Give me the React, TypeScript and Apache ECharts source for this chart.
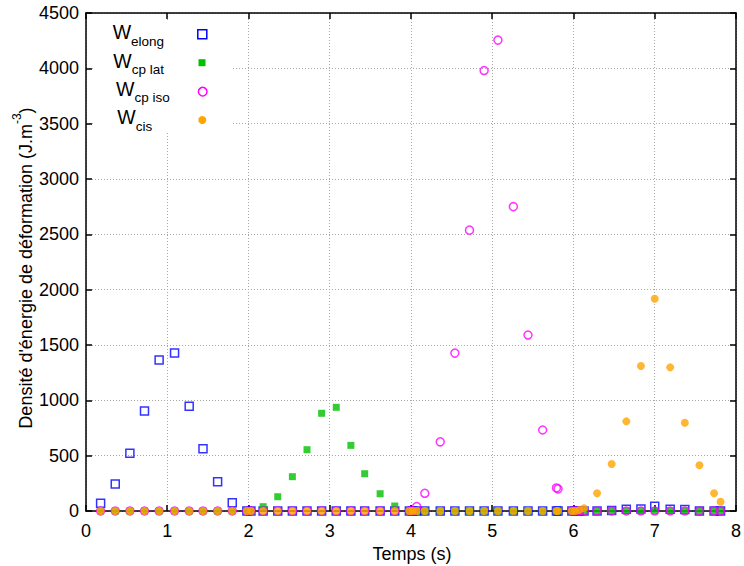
import React, { useEffect, useRef } from "react";
import * as echarts from "echarts";

// Time (s) of each sample
const times = [
  0.18, 0.36, 0.54, 0.72, 0.9, 1.09, 1.27, 1.44, 1.62, 1.8, 1.98,
  2.03, 2.18, 2.36, 2.54, 2.72, 2.9, 3.08, 3.26, 3.43, 3.62, 3.8, 3.98,
  4.02, 4.07, 4.17, 4.36, 4.54, 4.72, 4.9, 5.07, 5.26, 5.44, 5.62, 5.79, 5.81, 5.98,
  6.02, 6.07, 6.13, 6.29, 6.47, 6.65, 6.83, 7.0, 7.19, 7.37, 7.55, 7.73, 7.81,
];

const wElong = [
  70, 244, 521, 903, 1364, 1427, 946, 563, 265, 75, 0,
  0, 0, 0, 0, 0, 0, 0, 0, 0, 0, 0, 0,
  0, 0, 0, 0, 0, 0, 0, 0, 0, 0, 0, 0, 0, 0,
  0, 0, 0, 0, 5, 15, 18, 42, 16, 14, 0, 0, 0,
];

const wCpLat = [
  0, 0, 0, 0, 0, 0, 0, 0, 0, 0, 0,
  0, 39, 129, 310, 554, 883, 937, 593, 337, 156, 45, 0,
  0, 0, 0, 0, 0, 0, 0, 0, 0, 0, 0, 0, 0, 0,
  0, 0, 0, 0, 0, 0, 0, 0, 0, 0, 0, 0, 0,
];

const wCpIso = [
  0, 0, 0, 0, 0, 0, 0, 0, 0, 0, 0,
  0, 0, 0, 0, 0, 0, 0, 0, 0, 0, 0, 0,
  0, 40, 160, 625, 1427, 2538, 3980, 4255, 2750, 1590, 732, 208, 200, 0,
  0, 0, 0, 0, 0, 0, 0, 0, 0, 0, 0, 0, 0,
];

const wCis = [
  0, 0, 0, 0, 0, 0, 0, 0, 0, 0, 0,
  0, 0, 0, 0, 0, 0, 0, 0, 0, 0, 0, 0,
  0, 0, 0, 0, 0, 0, 0, 0, 0, 0, 0, 0, 0, 0,
  0, 8, 25, 160, 425, 810, 1310, 1918, 1298, 798, 413, 160, 84,
];

const legendSubs = ["elong", "cp lat", "cp iso", "cis"];
const xTitle = "Temps (s)";
const yTitleMain = "Densité d'énergie de déformation (J.m";
const yTitleSup = "-3";

const FONT = "Liberation Sans, Arial, Helvetica, sans-serif";
const BLUE = "#0000ff";
const GREEN = "#00c000";
const MAGENTA = "#ff00ff";
const ORANGE = "#ffa500";

function pairs(vals: number[]) {
  return times.map((t, i) => [t, vals[i]]);
}

export default function App() {
  const ref = useRef<HTMLDivElement>(null);
  useEffect(() => {
    if (!ref.current) return;
    const chart = echarts.init(ref.current, null, { renderer: "svg" });
    const axisLine = { show: true, onZero: false, lineStyle: { color: "#000", width: 1.5 } };
    const axisTick = { show: true, inside: true, length: 6, lineStyle: { color: "#000", width: 1.5 } };
    const splitLine = { show: true, lineStyle: { color: "#a8a8a8", type: [1, 2] as any, width: 1 } };
    const legendRows = [
      { x: 112.7, y: 22 },
      { x: 113.3, y: 50.8 },
      { x: 116, y: 78.6 },
      { x: 117.3, y: 107 },
    ];
    const graphic: any[] = [
      {
        type: "rect",
        z: 1,
        shape: { x: 94, y: 21, width: 139, height: 112 },
        style: { fill: "#fff" },
      },
      ...legendSubs.map((s, i) => ({
        type: "text",
        z: 10,
        x: legendRows[i].x,
        y: legendRows[i].y,
        style: {
          text: "{w|W}{s|" + s + "}",
          align: "left",
          verticalAlign: "top",
          fill: "#000",
          rich: {
            w: { fontSize: 19.5, fontFamily: FONT, lineHeight: 26, verticalAlign: "top", fill: "#000" },
            s: { fontSize: 13.5, fontFamily: FONT, lineHeight: 13.5, verticalAlign: "bottom", fill: "#000" },
          },
        },
      })),
      {
        type: "rect",
        z: 10,
        shape: { x: 202.3 - 4.5, y: 34.3 - 4.5, width: 9, height: 9 },
        style: { fill: "none", stroke: BLUE, lineWidth: 1.5 },
      },
      {
        type: "rect",
        z: 10,
        shape: { x: 202 - 3.5, y: 62.7 - 3.5, width: 7, height: 7 },
        style: { fill: GREEN },
      },
      {
        type: "circle",
        z: 10,
        shape: { cx: 202.7, cy: 91.7, r: 4.3 },
        style: { fill: "none", stroke: MAGENTA, lineWidth: 1.5 },
      },
      {
        type: "circle",
        z: 10,
        shape: { cx: 202.3, cy: 120, r: 4 },
        style: { fill: ORANGE },
      },
      {
        type: "text",
        z: 10,
        x: 412,
        y: 553.5,
        style: {
          text: xTitle,
          fontSize: 18,
          fontFamily: FONT,
          fill: "#000",
          align: "center",
          verticalAlign: "middle",
        },
      },
      {
        type: "text",
        z: 10,
        x: 23,
        y: 268,
        rotation: Math.PI / 2,
        style: {
          text: "{a|" + yTitleMain + "}{s|" + yTitleSup + "}{a|)}",
          align: "center",
          verticalAlign: "middle",
          fill: "#000",
          rich: {
            a: { fontSize: 18, fontFamily: FONT, lineHeight: 24, verticalAlign: "bottom", fill: "#000" },
            s: { fontSize: 12, fontFamily: FONT, lineHeight: 12, verticalAlign: "top", fill: "#000" },
          },
        },
      },
    ];
    const option: any = {
      animation: false,
      textStyle: { fontFamily: FONT },
      grid: { left: 86, right: 6, top: 13, bottom: 55 },
      xAxis: [
        {
          type: "value",
          min: 0,
          max: 8,
          interval: 1,
          position: "bottom",
          axisLine,
          axisTick,
          axisLabel: {
            show: true,
            fontSize: 18,
            color: "#000",
            margin: 11,
            fontFamily: FONT,
            formatter: (v: number) => String(v),
          },
          splitLine,
        },
        {
          type: "value",
          min: 0,
          max: 8,
          interval: 1,
          position: "top",
          axisLine,
          axisTick,
          axisLabel: { show: false },
          splitLine: { show: false },
        },
      ],
      yAxis: [
        {
          type: "value",
          min: 0,
          max: 4500,
          interval: 500,
          position: "left",
          axisLine,
          axisTick,
          axisLabel: {
            show: true,
            fontSize: 18,
            color: "#000",
            margin: 7,
            fontFamily: FONT,
            formatter: (v: number) => String(v),
          },
          splitLine,
        },
        {
          type: "value",
          min: 0,
          max: 4500,
          interval: 500,
          position: "right",
          axisLine,
          axisTick,
          axisLabel: { show: false },
          splitLine: { show: false },
        },
      ],
      series: [
        {
          name: "Welong",
          type: "scatter",
          data: pairs(wElong),
          symbol: "rect",
          symbolSize: 8,
          itemStyle: { color: "rgba(255,255,255,0)", borderColor: BLUE, borderWidth: 1.5 },
        },
        {
          name: "Wcp lat",
          type: "scatter",
          data: pairs(wCpLat),
          symbol: "rect",
          symbolSize: 7,
          itemStyle: { color: GREEN },
        },
        {
          name: "Wcp iso",
          type: "scatter",
          data: pairs(wCpIso),
          symbol: "circle",
          symbolSize: 8,
          itemStyle: { color: "rgba(255,255,255,0)", borderColor: MAGENTA, borderWidth: 1.5 },
        },
        {
          name: "Wcis",
          type: "scatter",
          data: pairs(wCis),
          symbol: "circle",
          symbolSize: 8,
          itemStyle: { color: ORANGE },
        },
      ],
      graphic,
    };
    chart.setOption(option);
    return () => chart.dispose();
  }, []);
  return (
    <div
      ref={ref}
      style={{ position: "absolute", left: 0, top: 0, width: 744, height: 566, background: "#fff" }}
    />
  );
}
